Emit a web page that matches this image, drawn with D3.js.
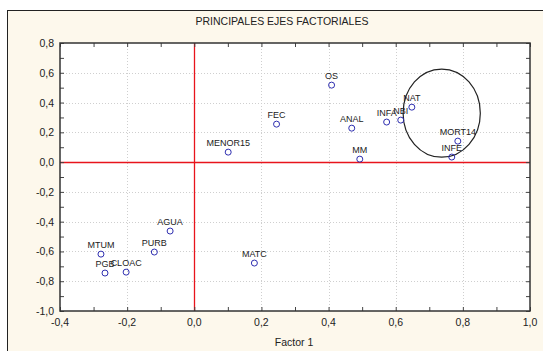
<!DOCTYPE html>
<html>
<head>
<meta charset="utf-8">
<script src="https://cdn.jsdelivr.net/npm/d3@7"></script>
<style>
  html, body { margin: 0; padding: 0; background: #fff; }
  svg { display: block; }
  text { font-family: Arial, "Liberation Sans", sans-serif; fill: #222; }
</style>
</head>
<body>
<svg id="chart" width="543" height="351"></svg>
<script>
// Variable coordinates on the first two factorial axes
const labels = ["OS", "NAT", "NBI", "INFA", "ANAL", "MM", "MORT14", "INFE", "FEC", "MENOR15",
                "AGUA", "PURB", "MTUM", "PGB", "CLOAC", "MATC"];
const factor1 = [0.409, 0.648, 0.615, 0.573, 0.469, 0.493, 0.785, 0.767, 0.245, 0.101,
                 -0.072, -0.119, -0.278, -0.266, -0.203, 0.179];
const factor2 = [0.517, 0.369, 0.282, 0.269, 0.228, 0.020, 0.141, 0.034, 0.255, 0.067,
                 -0.463, -0.604, -0.618, -0.745, -0.739, -0.678];

const xTicks = [-0.4, -0.2, 0.0, 0.2, 0.4, 0.6, 0.8, 1.0];
const yTicks = [-1.0, -0.8, -0.6, -0.4, -0.2, 0.0, 0.2, 0.4, 0.6, 0.8];

// Highlighted group (ellipse centre and radii in data units)
const groupCenter = [0.737, 0.329];
const groupRadii = [0.115, 0.296];

const svg = d3.select("#chart");
const W = 543, H = 351;
const plot = { left: 60, top: 43, right: 530, bottom: 311 };

// Panel background and frame
svg.append("rect").attr("x", 0).attr("y", 0).attr("width", W).attr("height", H).attr("fill", "#fff");
svg.append("rect").attr("x", 7.5).attr("y", 10.5).attr("width", W).attr("height", H)
  .attr("fill", "#fdf8ec").attr("stroke", "#222").attr("stroke-width", 1);

const x = d3.scaleLinear().domain([-0.4, 1.0]).range([plot.left, plot.right]);
const y = d3.scaleLinear().domain([-1.0, 0.8]).range([plot.bottom, plot.top]);

const fmt = v => d3.format(".1f")(v).replace(".", ",").replace("−", "-");

svg.append("rect").attr("x", plot.left).attr("y", plot.top)
  .attr("width", plot.right - plot.left).attr("height", plot.bottom - plot.top).attr("fill", "#fff");

// Dotted grid at major ticks
const grid = svg.append("g").attr("stroke", "#cfcfcf").attr("stroke-dasharray", "1,2").attr("stroke-width", 1);
xTicks.slice(1, -1).forEach(t => grid.append("line")
  .attr("x1", Math.round(x(t)) + 0.5).attr("x2", Math.round(x(t)) + 0.5)
  .attr("y1", plot.top).attr("y2", plot.bottom));
yTicks.slice(1, -1).forEach(t => grid.append("line")
  .attr("y1", Math.round(y(t)) + 0.5).attr("y2", Math.round(y(t)) + 0.5)
  .attr("x1", plot.left).attr("x2", plot.right));

// Red reference axes through the origin
svg.append("line").attr("x1", Math.round(x(0)) + 0.5).attr("x2", Math.round(x(0)) + 0.5)
  .attr("y1", plot.top).attr("y2", plot.bottom).attr("stroke", "#e8141c").attr("stroke-width", 1.3);
svg.append("line").attr("y1", Math.round(y(0)) + 0.5).attr("y2", Math.round(y(0)) + 0.5)
  .attr("x1", plot.left).attr("x2", plot.right).attr("stroke", "#e8141c").attr("stroke-width", 1.5);

// Axes with inward ticks (minor every 0.1)
const xMinor = d3.range(-0.4, 1.0001, 0.1);
const yMinor = d3.range(-1.0, 0.8001, 0.1);

const bottomAxis = svg.append("g").attr("transform", `translate(0,${plot.bottom})`)
  .call(d3.axisBottom(x).tickValues(xMinor).tickSize(-4).tickFormat(""));
const topAxis = svg.append("g").attr("transform", `translate(0,${plot.top})`)
  .call(d3.axisTop(x).tickValues(xMinor).tickSize(-4).tickFormat(""));
const leftAxis = svg.append("g").attr("transform", `translate(${plot.left},0)`)
  .call(d3.axisLeft(y).tickValues(yMinor).tickSize(-4).tickFormat(""));
const rightAxis = svg.append("g").attr("transform", `translate(${plot.right},0)`)
  .call(d3.axisRight(y).tickValues(yMinor).tickSize(-4).tickFormat(""));
[bottomAxis, topAxis, leftAxis, rightAxis].forEach(g => {
  g.select(".domain").remove();
  g.selectAll(".tick line").attr("stroke", "#444");
});

// Tick labels
svg.append("g").selectAll("text").data(xTicks).join("text")
  .attr("x", d => x(d)).attr("y", plot.bottom + 15)
  .attr("text-anchor", "middle").attr("font-size", 10.5).text(fmt);
svg.append("g").selectAll("text").data(yTicks).join("text")
  .attr("x", plot.left - 6).attr("y", d => y(d) + 4)
  .attr("text-anchor", "end").attr("font-size", 10.5).text(fmt);

// Plot border
svg.append("rect").attr("x", plot.left).attr("y", plot.top)
  .attr("width", plot.right - plot.left).attr("height", plot.bottom - plot.top)
  .attr("fill", "none").attr("stroke", "#333").attr("stroke-width", 1.5);

// Title and axis label
svg.append("text").attr("x", 282).attr("y", 25).attr("text-anchor", "middle")
  .attr("font-size", 10.5).text("PRINCIPALES EJES FACTORIALES");
svg.append("text").attr("x", 294).attr("y", 346).attr("text-anchor", "middle")
  .attr("font-size", 10.5).text("Factor 1");

// Ellipse around the group
svg.append("ellipse")
  .attr("cx", x(groupCenter[0])).attr("cy", y(groupCenter[1]))
  .attr("rx", x(groupCenter[0] + groupRadii[0]) - x(groupCenter[0]))
  .attr("ry", y(groupCenter[1]) - y(groupCenter[1] + groupRadii[1]))
  .attr("fill", "none").attr("stroke", "#222").attr("stroke-width", 1.2);

// Points and labels
const data = labels.map((l, i) => ({ label: l, f1: factor1[i], f2: factor2[i] }));
const pts = svg.append("g");
pts.selectAll("circle").data(data).join("circle")
  .attr("cx", d => x(d.f1)).attr("cy", d => y(d.f2)).attr("r", 3)
  .attr("fill", "none").attr("stroke", "#2e2eb0").attr("stroke-width", 1);
pts.selectAll("text").data(data).join("text")
  .attr("x", d => x(d.f1)).attr("y", d => y(d.f2) - 6)
  .attr("text-anchor", "middle").attr("font-size", 9).text(d => d.label);
</script>
</body>
</html>
